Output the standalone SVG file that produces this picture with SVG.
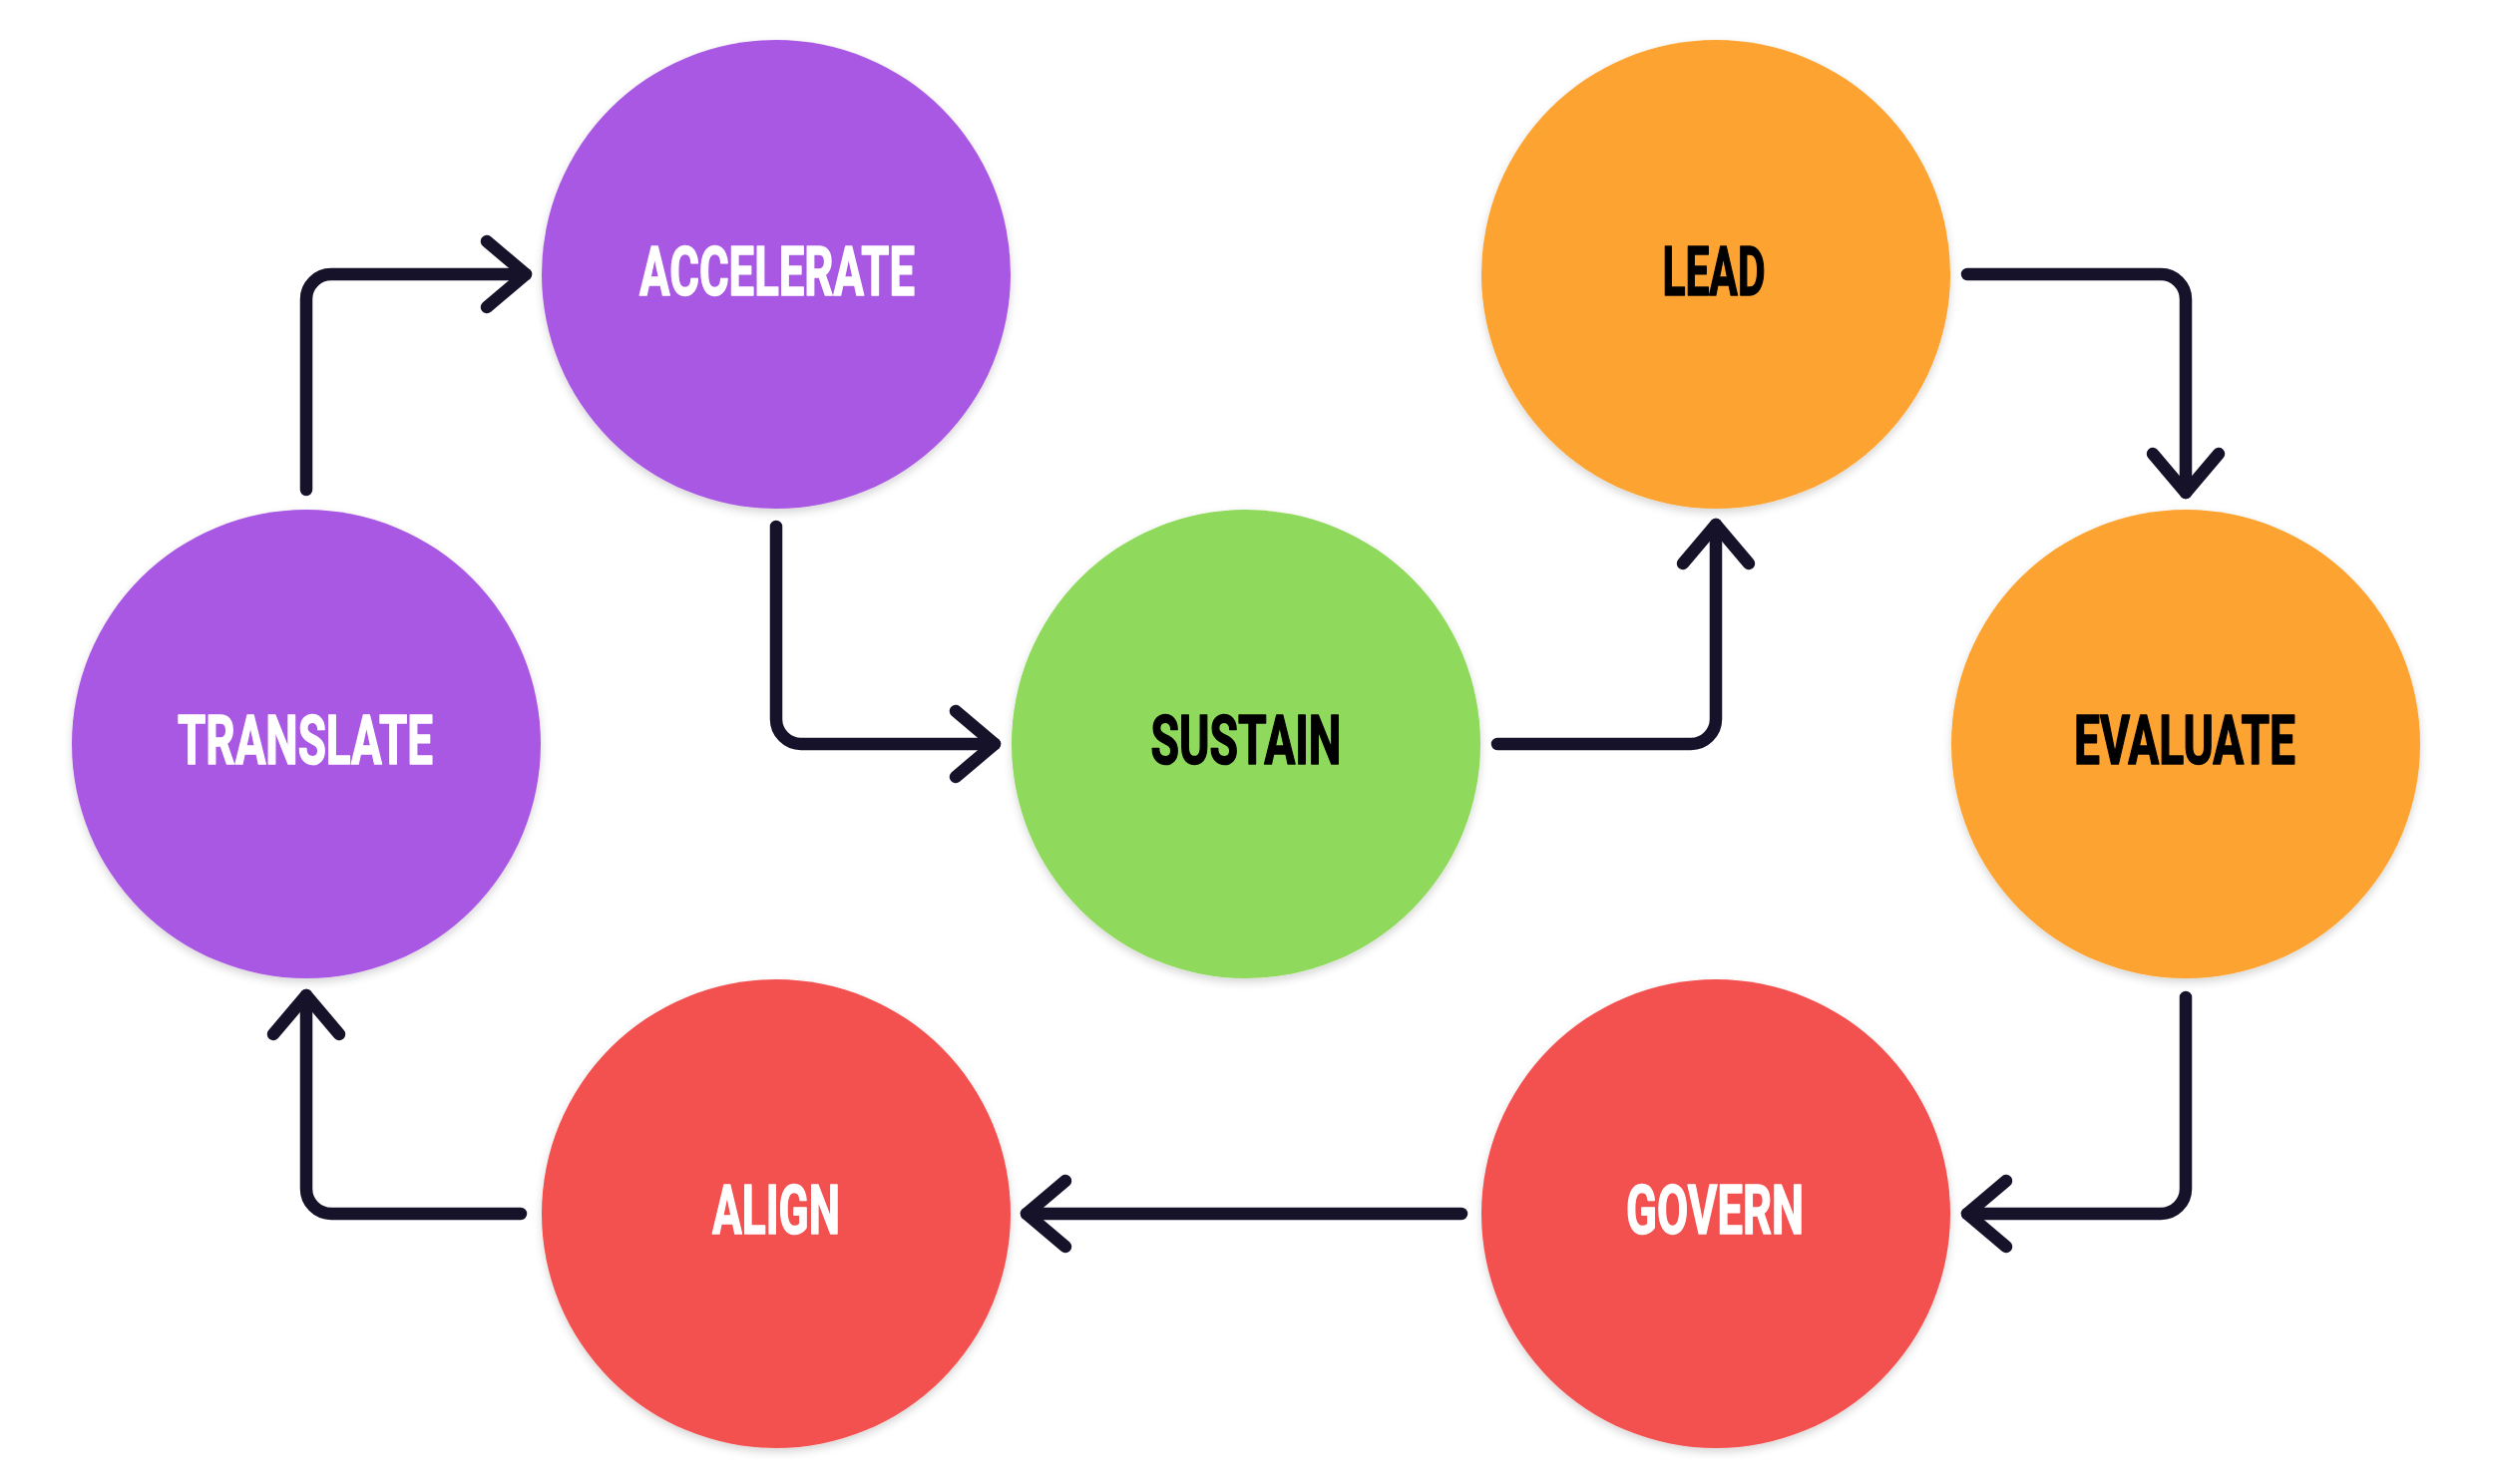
<svg xmlns="http://www.w3.org/2000/svg" width="2500" height="1488" viewBox="0 0 2500 1488">
  <defs>
    <filter id="sh" x="-20%" y="-20%" width="140%" height="140%">
      <feDropShadow dx="0" dy="4" stdDeviation="4" flood-color="#000" flood-opacity="0.16"/>
    </filter>
  </defs>
  <style>
    .node circle { filter: url(#sh); }
    .purple { fill: #A958E3; }
    .green { fill: #8FD95B; }
    .orange { fill: #FDA331; }
    .red { fill: #F35150; }
    .lbl { font-family: Roboto, "Liberation Sans", sans-serif; font-weight: 700; font-size: 68px; text-anchor: middle; stroke-width: 1.6; stroke-linejoin: round; }
    .w { fill: #FFFFFF; stroke: #FFFFFF; }
    .b { fill: #000000; stroke: #000000; }
    .conn path { fill: none; stroke: #15122A; stroke-width: 12.5; stroke-linecap: round; stroke-linejoin: round; }
  </style>
  <rect width="2500" height="1488" fill="#FFFFFF"/>

  <g id="connectors" class="conn">
    <g id="e-translate-accelerate">
      <path d="M307,491 V300 A25,25 0 0 1 332,275 H527"/>
      <path d="M488,242 L527,275 L488,308"/>
    </g>
    <g id="e-accelerate-sustain">
      <path d="M778,528 V721 A25,25 0 0 0 803,746 H997"/>
      <path d="M958,713 L997,746 L958,779"/>
    </g>
    <g id="e-sustain-lead">
      <path d="M1501,746 H1695 A25,25 0 0 0 1720,721 V526"/>
      <path d="M1687,565 L1720,526 L1753,565"/>
    </g>
    <g id="e-lead-evaluate">
      <path d="M1972,275 H2166 A25,25 0 0 1 2191,300 V494"/>
      <path d="M2158,455 L2191,494 L2224,455"/>
    </g>
    <g id="e-evaluate-govern">
      <path d="M2191,1000 V1192 A25,25 0 0 1 2166,1217 H1972"/>
      <path d="M2011,1184 L1972,1217 L2011,1250"/>
    </g>
    <g id="e-govern-align">
      <path d="M1465,1217 H1029"/>
      <path d="M1068,1184 L1029,1217 L1068,1250"/>
    </g>
    <g id="e-align-translate">
      <path d="M522,1217 H332 A25,25 0 0 1 307,1192 V998"/>
      <path d="M274,1037 L307,998 L340,1037"/>
    </g>
  </g>

  <g id="accelerate" class="node">
    <circle class="purple" cx="778" cy="275" r="235"/>
    <text class="lbl w" x="779" y="296" textLength="276" lengthAdjust="spacingAndGlyphs">ACCELERATE</text>
  </g>
  <g id="translate" class="node">
    <circle class="purple" cx="307" cy="746" r="235"/>
    <text class="lbl w" x="306" y="766" textLength="256" lengthAdjust="spacingAndGlyphs">TRANSLATE</text>
  </g>
  <g id="sustain" class="node">
    <circle class="green" cx="1249" cy="746" r="235"/>
    <text class="lbl b" x="1249" y="766" textLength="191" lengthAdjust="spacingAndGlyphs">SUSTAIN</text>
  </g>
  <g id="lead" class="node">
    <circle class="orange" cx="1720" cy="275" r="235"/>
    <text class="lbl b" x="1718" y="296" textLength="103" lengthAdjust="spacingAndGlyphs">LEAD</text>
  </g>
  <g id="evaluate" class="node">
    <circle class="orange" cx="2191" cy="746" r="235"/>
    <text class="lbl b" x="2190" y="766" textLength="222" lengthAdjust="spacingAndGlyphs">EVALUATE</text>
  </g>
  <g id="govern" class="node">
    <circle class="red" cx="1720" cy="1217" r="235"/>
    <text class="lbl w" x="1719" y="1237" textLength="178" lengthAdjust="spacingAndGlyphs">GOVERN</text>
  </g>
  <g id="align" class="node">
    <circle class="red" cx="778" cy="1217" r="235"/>
    <text class="lbl w" x="778" y="1237" textLength="128" lengthAdjust="spacingAndGlyphs">ALIGN</text>
  </g>
</svg>
